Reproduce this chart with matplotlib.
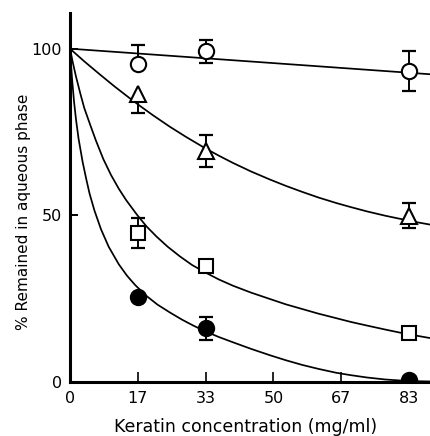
import numpy as np
import matplotlib
matplotlib.use('Agg')
import matplotlib.pyplot as plt

# measured points (keratin conc in mg/ml, % remaining)
conc = [16.7, 33.3, 83.3]

open_circle = [95.5, 99.2, 93.2]
open_circle_lo = [0, 3.5, 6]
open_circle_hi = [5.5, 3.5, 6]

triangle = [86.3, 69.2, 49.8]
triangle_lo = [5.5, 4.8, 3.7]
triangle_hi = [0, 4.8, 3.7]

square = [44.5, 34.7, 14.6]
square_lo = [4.5, 0, 0]
square_hi = [4.5, 0, 0]

filled = [25.3, 16.0, 0.5]
filled_lo = [0, 3.5, 0]
filled_hi = [0, 3.5, 0]

# fitted curves
circ_fit_x = [0, 30, 60, 88.7]
circ_fit_y = [100, 97.4, 94.8, 92.3]

tri_fit_x = [0, 3.5, 7.4, 11, 14.7, 17.2, 20.5, 24.6, 28.5, 33.2, 36.5, 40, 44.5,
             49.1, 53, 57, 61, 65.5, 69, 73, 77.5, 81.8, 85, 88.7]
tri_fit_y = [100, 96.2, 92.2, 88.6, 85.1, 82.8, 79.9, 76.5, 73.5, 70.1, 67.9, 65.7, 63.1,
             60.7, 58.8, 57.0, 55.3, 53.6, 52.4, 51.1, 49.8, 48.7, 47.9, 47.1]

sq_fit_x = [0, 0.7, 1.5, 2.5, 3.5, 5, 6.4, 8.2, 10.1, 12, 13.8, 16.4, 18.8, 21.3, 24,
            27, 30, 33.2, 36.5, 40, 44.5, 49.1, 53, 57, 61, 65.5, 69, 73, 77.5, 81.8,
            85, 88.7]
sq_fit_y = [100, 95.8, 91.5, 86.7, 82.2, 77.0, 72.3, 66.8, 62.0, 57.9, 54.5, 50.2, 46.6,
            43.5, 40.5, 37.6, 35.0, 32.8, 30.7, 28.8, 26.7, 24.8, 23.2, 21.8, 20.4, 19.0,
            17.9, 16.8, 15.6, 14.5, 13.8, 13.0]

low_fit_x = [0, 0.5, 1, 1.5, 2.1, 3.1, 4, 4.8, 6, 7.6, 9.5, 12, 14, 16, 18.7, 21.5,
             24.6, 27.5, 30.3, 33.2, 36.5, 40, 44.5, 49.1, 53, 57, 61, 65.5, 69, 73,
             77.5, 81.8, 85, 88.7]
low_fit_y = [100, 91, 84, 78.5, 73, 66, 60.8, 56.5, 51.4, 45.8, 40.5, 35.2, 31.8, 29.0,
             25.8, 23.1, 20.7, 18.6, 16.8, 15.1, 13.4, 11.8, 9.8, 7.9, 6.4, 5.0, 3.8,
             2.6, 1.9, 1.2, 0.6, 0.25, 0.1, 0]

plt.rcParams['font.family'] = 'DejaVu Sans'

fig = plt.figure(figsize=(4.31, 4.36), dpi=100)
ax = fig.add_axes([0.1624, 0.125, 0.8376, 0.845])

for fx, fy in [(circ_fit_x, circ_fit_y), (tri_fit_x, tri_fit_y),
               (sq_fit_x, sq_fit_y), (low_fit_x, low_fit_y)]:
    ax.plot(fx, fy, color='black', lw=1.25, zorder=2, solid_joinstyle='round')


def draw_points(y, lo, hi, marker, ms, face):
    x = np.array(conc)
    y = np.array(y)
    lo = np.array(lo)
    hi = np.array(hi)
    ax.vlines(x, y - lo, y + hi, color='black', lw=1.4, zorder=2.5)
    m = lo > 0
    ax.plot(x[m], (y - lo)[m], ls='none', marker='_', ms=9.5, mew=1.6,
            color='black', zorder=2.5)
    m = hi > 0
    ax.plot(x[m], (y + hi)[m], ls='none', marker='_', ms=9.5, mew=1.6,
            color='black', zorder=2.5)
    ax.plot(x, y, ls='none', marker=marker, ms=ms, mfc=face, mec='black',
            mew=1.5, zorder=3)


draw_points(open_circle, open_circle_lo, open_circle_hi, 'o', 11, 'white')
draw_points(triangle, triangle_lo, triangle_hi, '^', 11, 'white')
draw_points(square, square_lo, square_hi, 's', 10, 'white')
draw_points(filled, filled_lo, filled_hi, 'o', 11, 'black')

ax.set_xlim(0, 88.7)
ax.set_ylim(0, 110.7)

ax.spines['top'].set_visible(False)
ax.spines['right'].set_visible(False)
ax.spines['left'].set_linewidth(2.2)
ax.spines['bottom'].set_linewidth(2.2)
ax.spines['left'].set_zorder(5)
ax.spines['bottom'].set_zorder(5)

ax.set_xticks([0, 50/3, 100/3, 50, 200/3, 250/3])
ax.set_xticklabels(['0', '17', '33', '50', '67', '83'])
ax.set_yticks([0, 50, 100])
ax.set_yticklabels(['0', '50', '100'])
ax.tick_params(axis='x', direction='in', length=7, width=1.2, pad=7, labelsize=11.5)
ax.tick_params(axis='y', direction='in', length=6, width=1.4, pad=6, labelsize=11.5)

ax.set_xlabel('Keratin concentration (mg/ml)', fontsize=12.5)
ax.set_ylabel('% Remained in aqueous phase', fontsize=11)
ax.xaxis.set_label_coords(0.487, -0.1)
ax.yaxis.set_label_coords(-0.108, 0.46)

plt.savefig('out.png', dpi=100)
